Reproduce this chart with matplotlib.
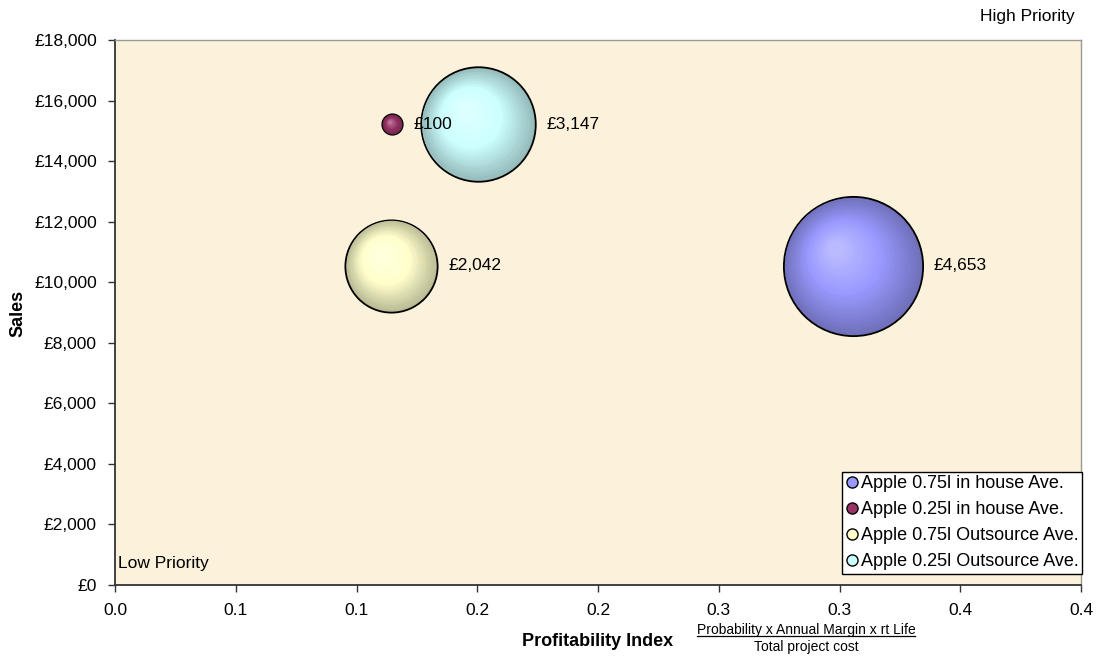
import numpy as np
import matplotlib
matplotlib.use("Agg")
import matplotlib.pyplot as plt
from matplotlib.lines import Line2D
from matplotlib.transforms import ScaledTranslation
from matplotlib.ticker import FuncFormatter

plt.rcParams['font.family'] = ['Liberation Sans', 'DejaVu Sans']

# data
series = ["Apple 0.75l in house Ave.", "Apple 0.25l in house Ave.",
          "Apple 0.75l Outsource Ave.", "Apple 0.25l Outsource Ave."]
profitability = [0.3055, 0.1148, 0.1144, 0.1503]
sales = [10550, 15215, 10550, 15215]
margin = [4653, 100, 2042, 3147]
colors = ["#9999FF", "#993366", "#FFFFCC", "#CCFFFF"]

xticks = [0.0, 0.05, 0.10, 0.15, 0.20, 0.25, 0.30, 0.35, 0.40]
xticklabels = ["0.0", "0.1", "0.1", "0.2", "0.2", "0.3", "0.3", "0.4", "0.4"]
yticks = list(range(0, 18001, 2000))

W, H = 1099, 659
fig = plt.figure(figsize=(W / 100, H / 100), dpi=100)
ax = fig.add_axes([115 / W, (H - 585) / H, 966 / W, 545 / H])
ax.set_facecolor("#FCF1DA")

ax.set_xlim(0, 0.4)
ax.set_ylim(0, 18000)
ax.set_xticks(xticks)
ax.set_xticklabels(xticklabels)
ax.set_yticks(yticks)
ax.yaxis.set_major_formatter(FuncFormatter(lambda v, p: "\u00a3{:,.0f}".format(v)))
ax.tick_params(labelsize=12.5, length=5, width=1, color="#333333", pad=8)
for side in ["left", "bottom"]:
    ax.spines[side].set_color("#333333")
    ax.spines[side].set_linewidth(1.3)
for side in ["top", "right"]:
    ax.spines[side].set_color("#999999")
    ax.spines[side].set_linewidth(1.0)


def mix(c1, c2, t):
    return tuple(a + (b - a) * t for a, b in zip(c1, c2))


size_k = 2.16  # pt^2 per unit of margin
nlayers = 30
for x, y, m, c in zip(profitability, sales, margin, colors):
    base = matplotlib.colors.to_rgb(c)
    dark = mix(base, (0, 0, 0), 0.27)
    light = mix(base, (1, 1, 1), 0.35)
    s = size_k * m
    r_pt = np.sqrt(s) / 2
    # outline + darkest layer
    ax.scatter([x], [y], s=s, color=dark, edgecolors="black", linewidths=1.3, zorder=3)
    for k in range(1, nlayers):
        t = k / nlayers
        rk = r_pt * (1 - t * 0.92)
        off = 0.25 * r_pt * t
        tr = ax.transData + ScaledTranslation(-off / 72, off / 72, fig.dpi_scale_trans)
        if t < 0.5:
            col = mix(dark, base, t / 0.5)
        else:
            col = mix(base, light, (t - 0.5) / 0.5)
        ax.scatter([x], [y], s=(2 * rk) ** 2, color=col, linewidths=0,
                   transform=tr, zorder=3 + t)
    ax.annotate("\u00a3{:,}".format(m), (x, y), xytext=(r_pt + 8, 0),
                textcoords="offset points", va="center", ha="left",
                fontsize=12.5, zorder=5)

handles = [Line2D([], [], marker="o", linestyle="none", markersize=8,
                  markerfacecolor=c, markeredgecolor="black", markeredgewidth=1)
           for c in colors]
leg = ax.legend(handles, series, loc="lower right", bbox_to_anchor=(1.001, 0.02),
                fontsize=13, frameon=True, fancybox=False, handletextpad=0.15,
                handlelength=0.7, borderpad=0.2, labelspacing=0.5, borderaxespad=0)
leg.get_frame().set_edgecolor("black")
leg.get_frame().set_linewidth(1.0)
leg.get_frame().set_facecolor("white")
leg.get_frame().set_alpha(1)
leg.set_zorder(6)

ax.text(0.003, 0.04, "Low Priority", transform=ax.transAxes, fontsize=12.5,
        ha="left", va="center")
fig.text(1075 / W, 1 - 16 / H, "High Priority", fontsize=12.5, ha="right", va="center")

fig.text(18 / W, 1 - 313 / H, "Sales", rotation=90, fontsize=13, fontweight="bold",
         ha="center", va="center")
fig.text(598 / W, 1 - 641 / H, "Profitability Index", fontsize=13, fontweight="bold",
         ha="center", va="center")
num = fig.text(806 / W, 1 - 630 / H, "Probability x Annual Margin x rt Life",
               fontsize=10, ha="center", va="center")
fig.text(806 / W, 1 - 647 / H, "Total project cost", fontsize=10,
         ha="center", va="center")

# underline the numerator
fig.canvas.draw()
bb = num.get_window_extent().transformed(fig.transFigure.inverted())
fig.add_artist(Line2D([bb.x0, bb.x1], [bb.y0 + 0.001, bb.y0 + 0.001],
                      transform=fig.transFigure, color="black", linewidth=0.9))

fig.savefig("out.png", dpi=100, facecolor="white")
